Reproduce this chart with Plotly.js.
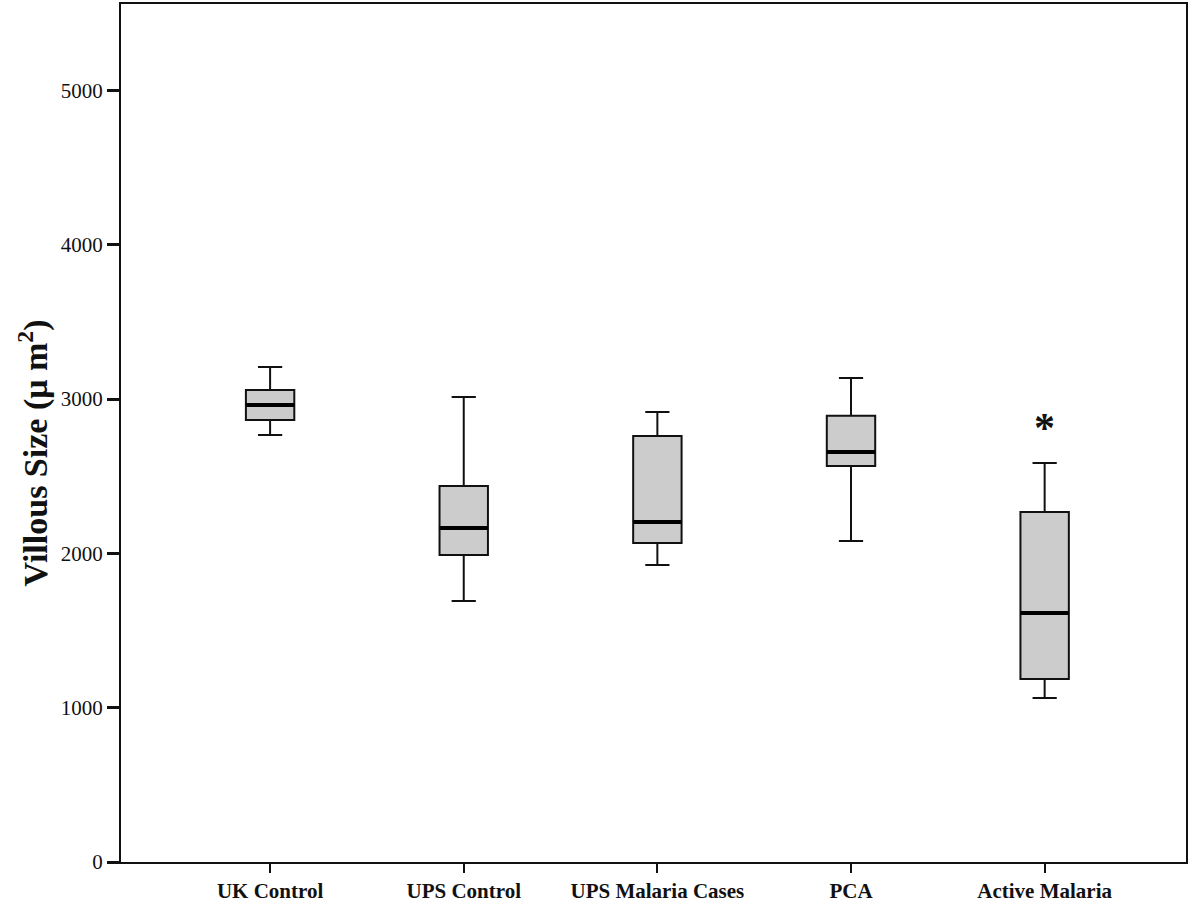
<!DOCTYPE html>
<html>
<head>
<meta charset="utf-8">
<script src="https://cdn.plot.ly/plotly-3.0.1.min.js"></script>
<style>
  html, body { margin: 0; padding: 0; background: #fff; }
  #chart { width: 1200px; height: 905px; }
</style>
</head>
<body>
<div id="chart"></div>
<script>
// groups and box statistics
var groups = ['UK Control', 'UPS Control', 'UPS Malaria Cases', 'PCA', 'Active Malaria'];
var lowerWhisker = [2767, 1692, 1925, 2080, 1063];
var q1Values     = [2865, 1990, 2067, 2566, 1186];
var medianValues = [2962, 2165, 2203, 2657, 1614];
var q3Values     = [3059, 2437, 2761, 2891, 2268];
var upperWhisker = [3208, 3014, 2916, 3137, 2586];

// significance marker
var markGroup = 'Active Malaria';
var markValue = 2810;

var serif = 'Liberation Serif, Times New Roman, serif';

var boxes = {
    type: 'box',
    x: groups,
    q1: q1Values,
    median: medianValues,
    q3: q3Values,
    lowerfence: lowerWhisker,
    upperfence: upperWhisker,
    width: 0.25,
    whiskerwidth: 0.5,
    fillcolor: '#cccccc',
    line: { color: '#111111', width: 2 },
    boxpoints: false,
    hoverinfo: 'skip',
    showlegend: false
};

// thicker median line drawn as a flat box over the first
var medians = {
    type: 'box',
    x: groups,
    q1: medianValues,
    median: medianValues,
    q3: medianValues,
    lowerfence: medianValues,
    upperfence: medianValues,
    width: 0.25,
    whiskerwidth: 0,
    fillcolor: 'rgba(0,0,0,0)',
    line: { color: '#000000', width: 4 },
    boxpoints: false,
    hoverinfo: 'skip',
    showlegend: false
};

var layout = {
    width: 1200,
    height: 905,
    margin: { l: 121, r: 14, t: 4, b: 43 },
    paper_bgcolor: '#ffffff',
    plot_bgcolor: '#ffffff',
    boxmode: 'overlay',
    showlegend: false,
    font: { family: serif, color: '#111111' },
    xaxis: {
        type: 'category',
        range: [-0.77, 4.73],
        showgrid: false,
        zeroline: false,
        showline: true,
        mirror: true,
        linecolor: '#111111',
        linewidth: 2,
        ticks: 'outside',
        ticklen: 9,
        tickwidth: 2,
        tickcolor: '#111111',
        tickfont: { family: serif, size: 21, color: '#111111', weight: 'bold' }
    },
    yaxis: {
        range: [0, 5560],
        tickvals: [0, 1000, 2000, 3000, 4000, 5000],
        showgrid: false,
        zeroline: false,
        showline: true,
        mirror: true,
        linecolor: '#111111',
        linewidth: 2,
        ticks: 'outside',
        ticklen: 12,
        tickwidth: 3,
        tickcolor: '#111111',
        tickfont: { family: serif, size: 21, color: '#111111' }
    },
    annotations: [{
        // y axis title, placed by hand to sit a little below centre as in the figure
        xref: 'paper',
        yref: 'paper',
        x: -0.082,
        y: 0.477,
        xanchor: 'center',
        yanchor: 'middle',
        textangle: -90,
        text: 'Villous Size (μ m<sup>2</sup>)',
        showarrow: false,
        font: { family: serif, size: 34, color: '#111111', weight: 'bold' }
    }, {
        x: markGroup,
        y: markValue,
        xref: 'x',
        yref: 'y',
        text: '*',
        showarrow: false,
        yanchor: 'middle',
        font: { family: serif, size: 42, color: '#111111', weight: 'bold' }
    }]
};

Plotly.newPlot('chart', [boxes, medians], layout, { displayModeBar: false, staticPlot: true });
</script>
</body>
</html>
